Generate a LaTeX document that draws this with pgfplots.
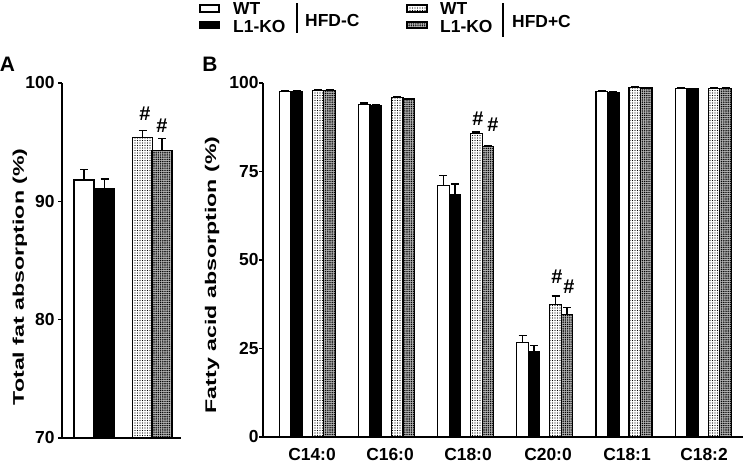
\documentclass[border=0pt]{standalone}
\usepackage{fontspec}
\setmainfont{Liberation Sans}
\usepackage{pgfplots}
\pgfplotsset{compat=1.18}
\usetikzlibrary{patterns,patterns.meta}

\tikzset{hash/.style={font=\fontsize{20}{20}\selectfont\bfseries}}

\pgfplotsset{
  panel/.style={
    scale only axis, anchor=south west,
    axis x line*=bottom, axis y line*=left,
    axis line style={line width=1.6bp, -},
    ytick style={black, line width=1.4bp},
    xtick style={draw=none},
    tick align=outside, major tick length=4bp,
    ticklabel style={font=\fontsize{17.5}{17.5}\selectfont\bfseries},
    /pgf/number format/assume math mode=true,
    ylabel style={font=\fontsize{15.5}{16}\selectfont\bfseries, anchor=center},
    error bars/y dir=plus, error bars/y explicit,
    error bars/error bar style={black, line width=1.4bp},
    error bars/error mark options={black, line width=1.4bp, mark size=4bp, rotate=90},
  },
  bb/.style={ybar, bar shift=0pt, draw=black, line width=1.2bp},
  wtc/.style={bb, fill=white},
  koc/.style={bb, fill=black},
  wtp/.style={bb, fill=white, postaction={pattern={Dots[distance=2.5bp, radius=0.6bp]}}},
  kop/.style={bb, fill=black!30, postaction={pattern={Dots[distance=2.2bp, radius=0.8bp]}}},
}

\begin{document}
\begin{tikzpicture}[x=1bp, y=1bp]
% legend
\draw[line width=1.2bp, fill=white] (200,451) rectangle (219,458);
\draw[line width=1.2bp, fill=black] (200,435) rectangle (219,441);
\draw[line width=1.2bp, fill=white, postaction={pattern={Dots[distance=2.5bp, radius=0.6bp]}}] (407,451) rectangle (427,458);
\draw[line width=1.2bp, fill=black!30, postaction={pattern={Dots[distance=2.2bp, radius=0.8bp]}}] (407,435) rectangle (427,441);
\begin{scope}[every node/.style={inner sep=0pt, anchor=west, font=\fontsize{17.5}{18}\selectfont\bfseries}]
  \node at (233,454.5) {WT};
  \node at (233,436.5) {L1-KO};
  \node at (305,442.5) {HFD-C};
  \node at (440,454.5) {WT};
  \node at (440,436.5) {L1-KO};
  \node at (512,441.5) {HFD+C};
\end{scope}
\draw[line width=1.5bp] (297,430) -- (297,460);
\draw[line width=1.5bp] (503,426) -- (503,460);

\node[font=\fontsize{21}{21}\selectfont\bfseries] at (7.5,398.5) {A};
\node[font=\fontsize{21}{21}\selectfont\bfseries] at (210,398.5) {B};

% panel A
\begin{axis}[panel, at={(62bp,25bp)}, width=119bp, height=355bp,
  xmin=0, xmax=119, ymin=70, ymax=100, ytick={70,80,90,100},
  xtick=\empty, bar width=20,
  ylabel={\scalebox{1.5}[1]{Total fat absorption (\%)}},
  ylabel style={at={(axis description cs:-0.353,0.454)}}]
\addplot[wtc] coordinates {(22,91.8) +- (0,0.9)};
\addplot[koc] coordinates {(42.5,91.05) +- (0,0.85)};
\addplot[wtp] coordinates {(80.5,95.4) +- (0,0.6)};
\addplot[kop] coordinates {(100,94.3) +- (0,1.0)};
\node[hash] at (axis cs:83,97.4) {\#};
\node[hash] at (axis cs:100,96.4) {\#};
\end{axis}

% panel B
\begin{axis}[panel, at={(263bp,26bp)}, width=480bp, height=354bp,
  xmin=0, xmax=480, ymin=0, ymax=100, ytick={0,25,50,75,100},
  xtick={49,127,205,285,364,441},
  xticklabels={C14:0,C16:0,C18:0,C20:0,C18:1,C18:2},
  xticklabel style={yshift=-3.5bp},
  yticklabel style={xshift=3bp},
  bar width=11.5,
  ylabel={\scalebox{1.5}[1]{Fatty acid absorption (\%)}},
  ylabel style={at={(axis description cs:-0.106,0.458)}}]
\addplot[wtc] coordinates {(22,97.6) +- (0,0.2) (101.2,94.0) +- (0,0.4)
  (180.4,71.1) +- (0,2.7) (259.6,26.8) +- (0,1.9) (338.8,97.5) +- (0,0.2)
  (418,98.5) +- (0,0.1)};
\addplot[koc] coordinates {(33.5,97.5) +- (0,0.2) (112.7,93.5) +- (0,0.5)
  (191.9,68.6) +- (0,2.9) (271.1,24.0) +- (0,1.8) (350.3,97.4) +- (0,0.2)
  (429.5,98.4) +- (0,0.1)};
\addplot[wtp] coordinates {(55,97.9) +- (0,0.1) (134.2,96.0) +- (0,0.2)
  (213.4,85.8) +- (0,0.3) (292.6,37.5) +- (0,2.3) (371.8,98.8) +- (0,0.1)
  (451,98.5) +- (0,0.1)};
\addplot[kop] coordinates {(66.5,97.9) +- (0,0.1) (145.7,95.5) +- (0,0.2)
  (224.9,82.0) +- (0,0.3) (304.1,34.6) +- (0,1.9) (383.3,98.6) +- (0,0.1)
  (462.5,98.5) +- (0,0.1)};
\node[hash] at (axis cs:215,89.8) {\#};
\node[hash] at (axis cs:230,88.3) {\#};
\node[hash] at (axis cs:294,45.2) {\#};
\node[hash] at (axis cs:306,42.5) {\#};
\end{axis}
\pgfresetboundingbox
\useasboundingbox (0,0) rectangle (745,463);
\end{tikzpicture}
\end{document}
